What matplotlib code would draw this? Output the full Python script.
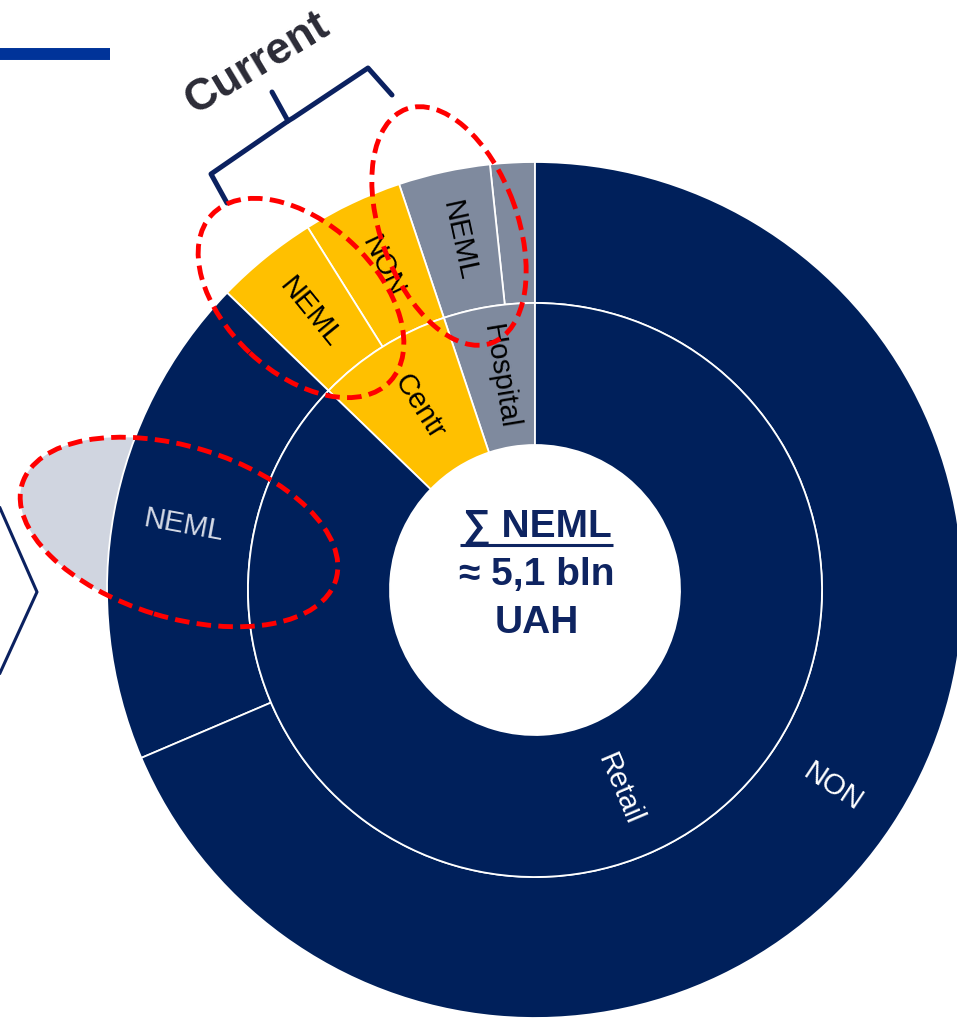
"""
Sunburst of NEML / non-NEML spend by channel
"""
import numpy as np
import pandas as pd
import matplotlib
matplotlib.use('Agg')  # no display
import matplotlib.pyplot as plt
from matplotlib.patches import Ellipse

plt.rcParams['font.family'] = ['Liberation Sans', 'DejaVu Sans']

W, H = 957, 1021

# outer ring, counter-clockwise from 12 o'clock (bln UAH)
segments      = ['Hospital', 'Hospital', 'Centr', 'Centr', 'Retail', 'Retail']
drug_groups   = ['NON', 'NEML', 'NON', 'NEML', 'NEML', 'NON']
spend_bln_uah = [0.33, 0.68, 0.74, 0.76, 3.66, 13.47]
neml_total    = '5,1'

seg_colors  = {'Hospital': '#7F8A9E', 'Centr': '#FFC000', 'Retail': '#00205B'}
text_colors = {'Hospital': 'black', 'Centr': 'black', 'Retail': 'white'}
NAVY = '#0B2160'
RED  = '#FF0000'

df = pd.DataFrame({'segment': segments, 'group': drug_groups, 'value': spend_bln_uah})
inner = df.groupby('segment', sort=False)['value'].sum()


def py(y):
    """pixel row (from top) -> data y"""
    return H - np.asarray(y, dtype=float)


fig = plt.figure(figsize=(W / 100, H / 100), dpi=100)
ax = fig.add_axes([0, 0, 1, 1])

cx, cy = 535, py(590)
r_out, r_mid, r_hole = 428, 287, 145

# light fill of the left call-out, sits behind the ring
ax.add_patch(Ellipse((179, py(532)), 328, 171, angle=-17,
                     facecolor='#D0D5E0', edgecolor='none', zorder=0))

edge = dict(edgecolor='white', linewidth=1.3)
outer_w, _ = ax.pie(df['value'], radius=r_out, center=(cx, cy), startangle=90,
                    colors=[seg_colors[s] for s in df['segment']],
                    wedgeprops=dict(width=r_out - r_mid, **edge))
inner_w, _ = ax.pie(inner.values, radius=r_mid, center=(cx, cy), startangle=90,
                    colors=[seg_colors[s] for s in inner.index],
                    wedgeprops=dict(width=r_mid - r_hole, **edge))


def put_label(w, text, r, color):
    ang = (w.theta1 + w.theta2) / 2
    if w.theta2 - w.theta1 < 8:   # too thin for a label
        return
    th = np.deg2rad(ang)
    rot = (ang + 90) % 180 - 90
    ax.text(cx + r * np.cos(th), cy + r * np.sin(th), text, rotation=rot,
            rotation_mode='anchor', ha='center', va='center',
            fontsize=21, color=color, zorder=3)


for w, name in zip(inner_w, inner.index):
    put_label(w, name, (r_hole + r_mid) / 2, text_colors[name])

for w, (_, row) in zip(outer_w, df.iterrows()):
    c = text_colors[row['segment']]
    if row['segment'] == 'Retail' and row['group'] == 'NEML':
        c = '#D5DAE6'
    put_label(w, row['group'], (r_mid + r_out) / 2, c)

# centre caption
ax.text(537, py(537), '∑ NEML', ha='center', va='baseline', fontsize=28,
        fontweight='bold', color='#0E2461')
ax.plot([460, 613], py([545, 545]), color='#0E2461', lw=2.2, solid_capstyle='butt')
ax.text(537, py(585), f'≈ {neml_total} bln', ha='center', va='baseline', fontsize=28,
        fontweight='bold', color='#0E2461')
ax.text(537, py(633), 'UAH', ha='center', va='baseline', fontsize=28,
        fontweight='bold', color='#0E2461')

# red dashed call-outs
dash = (0, (3.0, 1.5))
for xy, w_, h_, a in [((179, 532), 328, 171, -17),
                      ((301, 298), 244, 150, -43),
                      ((449, 226), 249, 137, 110)]:
    ax.add_patch(Ellipse((xy[0], py(xy[1])), w_, h_, angle=a, facecolor='none',
                         edgecolor=RED, lw=3.5, linestyle=dash, zorder=5))

# "Current" brace
ax.plot([227, 211, 288, 293, 368, 392], py([203, 174, 121, 118, 68, 95]),
        color=NAVY, lw=3.6, solid_joinstyle='round', solid_capstyle='round', zorder=4)
ax.plot([288, 272], py([121, 92]), color=NAVY, lw=3.6, solid_capstyle='round', zorder=4)
ax.text(257, py(64), 'Current', rotation=31, rotation_mode='anchor', ha='center',
        va='center', fontsize=32, fontweight='bold', color='#2B2B36')

# left brace and header bar
ax.plot([0, 37, 0], py([508, 592, 673]), color=NAVY, lw=2.2, zorder=4)
ax.plot([0, 110], py([54, 54]), color='#003399', lw=8.6, solid_capstyle='butt')

ax.set_xlim(0, W)
ax.set_ylim(0, H)
ax.set_aspect('auto')
ax.axis('off')

fig.savefig('out.png', dpi=100, facecolor='white')
plt.close(fig)
